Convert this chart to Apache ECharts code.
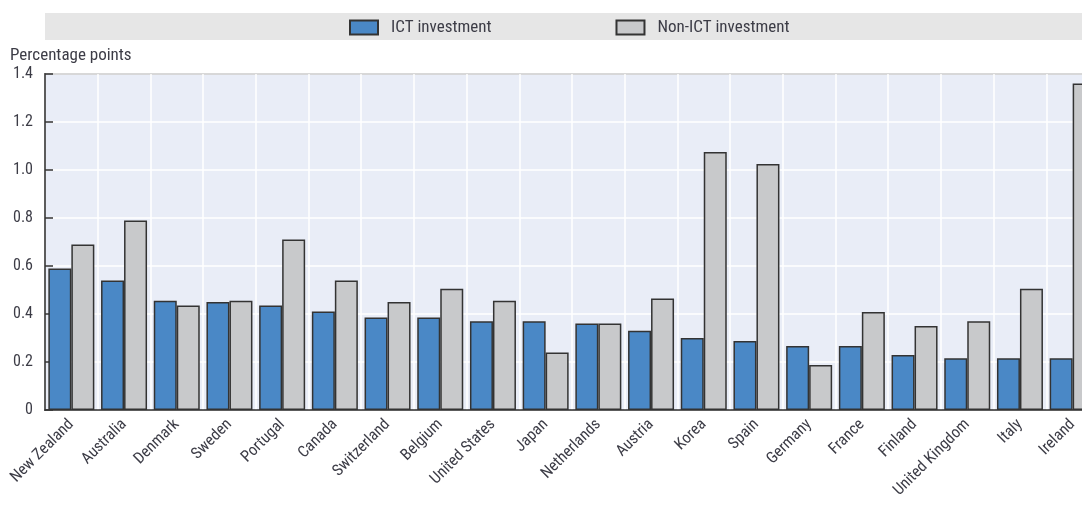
<!DOCTYPE html>
<html>
<head>
<meta charset="utf-8">
<script src="https://cdn.jsdelivr.net/npm/echarts@6/dist/echarts.min.js"></script>
<style>
  html, body { margin: 0; padding: 0; background: #fff; overflow: hidden; }
  /* plot runs past the right edge of the window, as in the original crop */
  #chart { width: 1099px; height: 505px; }
</style>
</head>
<body>
<div id="chart"></div>
<script>
var countries = ['New Zealand', 'Australia', 'Denmark', 'Sweden', 'Portugal', 'Canada', 'Switzerland',
  'Belgium', 'United States', 'Japan', 'Netherlands', 'Austria', 'Korea', 'Spain', 'Germany',
  'France', 'Finland', 'United Kingdom', 'Italy', 'Ireland']
var ictValues = [0.59, 0.54, 0.455, 0.45, 0.435, 0.41, 0.385, 0.385, 0.37, 0.37, 0.36, 0.33,
  0.30, 0.288, 0.267, 0.267, 0.229, 0.216, 0.216, 0.216]
var nonIctValues = [0.69, 0.79, 0.435, 0.455, 0.71, 0.54, 0.45, 0.505, 0.455, 0.24, 0.36, 0.465,
  1.075, 1.025, 0.188, 0.408, 0.35, 0.37, 0.505, 1.36]
var yTicks = [0, 0.2, 0.4, 0.6, 0.8, 1.0, 1.2, 1.4]

var font = '"Liberation Sans Narrow", "Roboto Condensed", "Liberation Sans", sans-serif'
var txt = '#3c3c46'

var myChart = echarts.init(document.getElementById('chart'))
var option = {
  animation: false,
  textStyle: { fontFamily: font },
  graphic: [
    { // legend band
      type: 'rect', left: 45, top: 13, z: -1,
      shape: { width: 1054, height: 27 },
      style: { fill: '#e6e6e6' }
    },
    {
      type: 'text', left: 10, top: 47,
      style: { text: 'Percentage points', fontSize: 17, fontFamily: font, fill: txt }
    }
  ],
  legend: {
    left: 349,
    top: 19,
    padding: 0,
    icon: 'rect',
    itemWidth: 28,
    itemHeight: 14,
    itemGap: 124,
    textStyle: { fontSize: 17, color: txt, fontFamily: font, padding: [0, 0, 0, 8] },
    data: ['ICT investment', 'Non-ICT investment']
  },
  grid: {
    left: 45, top: 74, right: 0, bottom: 95,
    show: true,
    backgroundColor: '#e9edf7',
    borderColor: '#333',
    borderWidth: 1.5
  },
  xAxis: {
    type: 'category',
    data: countries,
    axisLine: { lineStyle: { color: '#333', width: 1.5 } },
    axisTick: { inside: true, length: 6, lineStyle: { color: '#333', width: 1.5 } },
    splitLine: { show: true, lineStyle: { color: '#fff', width: 1.5 } },
    axisLabel: { rotate: 45, fontSize: 16, color: txt, margin: 12, interval: 0 }
  },
  yAxis: {
    type: 'value',
    min: 0,
    max: 1.4,
    interval: 0.2,
    axisLine: { show: true, lineStyle: { color: '#333', width: 1.5 } },
    axisTick: { show: true, inside: true, length: 8, lineStyle: { color: '#333', width: 1.5 } },
    splitLine: { lineStyle: { color: '#fff', width: 1.5 } },
    axisLabel: {
      fontSize: 16, color: txt, margin: 12,
      formatter: function (v) {
        var i = yTicks.indexOf(Math.round(v * 10) / 10)
        return i < 0 ? '' : (yTicks[i] === 0 ? '0' : yTicks[i].toFixed(1))
      }
    }
  },
  series: [
    {
      name: 'ICT investment',
      type: 'bar',
      data: ictValues,
      barWidth: 23,
      barGap: '0%',
      itemStyle: { color: '#4a88c6', borderColor: '#333', borderWidth: 1.5 }
    },
    {
      name: 'Non-ICT investment',
      type: 'bar',
      data: nonIctValues,
      barWidth: 23,
      barGap: '0%',
      itemStyle: { color: '#c8c9cb', borderColor: '#333', borderWidth: 1.5 }
    }
  ]
}
myChart.setOption(option)
</script>
</body>
</html>
